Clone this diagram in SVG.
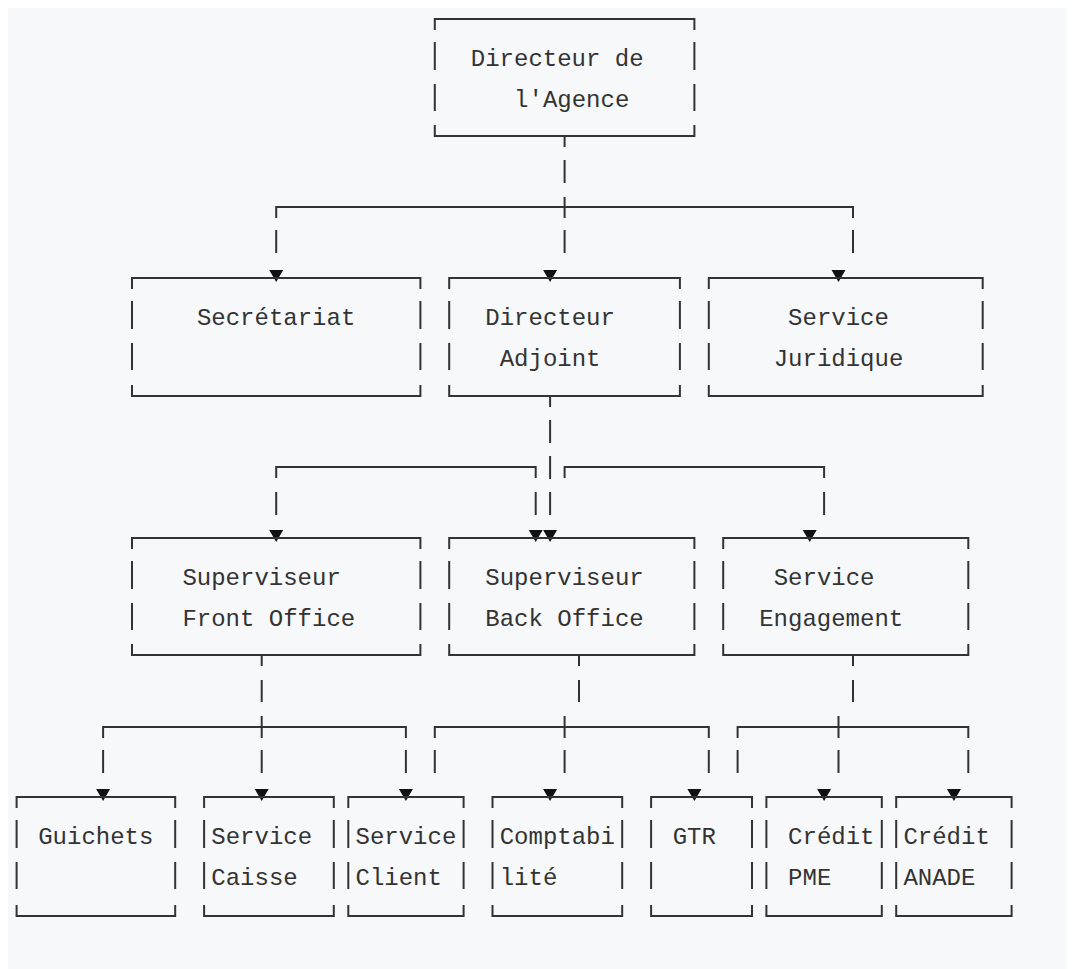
<svg xmlns="http://www.w3.org/2000/svg" width="1075" height="969" viewBox="0 0 1075 969">
<style>
.bx{fill:none;stroke:#333;stroke-width:2;stroke-linecap:butt}
.cn{fill:none;stroke:#333;stroke-width:2;stroke-linecap:butt}
.ar{fill:#111;stroke:none}
.t{font-family:"Liberation Mono","DejaVu Sans Mono",monospace;font-size:24px;fill:#333}
</style>
<defs>
<path id="arw" d="M-7,-8 L7,-8 L0,4 Z"/>
</defs>
<rect x="0" y="0" width="1075" height="969" fill="#ffffff"/>
<rect x="8" y="8" width="1059" height="961" fill="#f7f8fa"/>

<g id="connectors">
<path class="cn" d="M564.6 136V147 M564.6 160V183 M564.6 197V218 M564.6 230V253
M276.2 218V207H853V218 M276.2 230V253 M853 230V253"/>
<path class="cn" d="M550.1 396V407 M550.1 420V443 M550.1 456V479 M550.1 492V515
M276.2 478V467H535.7V478 M276.2 492V515 M535.7 492V515
M564.6 478V467H824.1V478 M824.1 492V515"/>
<path class="cn" d="M261.7 655V666 M261.7 680V702 M261.7 716V738 M261.7 750V773
M103.1 738V727H405.9V738 M103.1 750V773 M405.9 750V773"/>
<path class="cn" d="M579 655V666 M579 680V702 M564.6 716V738 M564.6 750V773
M434.8 738V727H708.8V738 M434.8 750V773 M708.8 750V773"/>
<path class="cn" d="M853 655V666 M853 680V702 M838.5 716V738 M838.5 750V773
M737.6 738V727H968.3V738 M737.6 750V773 M968.3 750V773"/>
<g class="ar">
<use href="#arw" x="276.2" y="278"/>
<use href="#arw" x="550.1" y="278"/>
<use href="#arw" x="838.5" y="278"/>
<use href="#arw" x="276.2" y="538"/>
<use href="#arw" x="535.7" y="538"/>
<use href="#arw" x="550.1" y="538"/>
<use href="#arw" x="809.7" y="538"/>
<use href="#arw" x="103.1" y="797"/>
<use href="#arw" x="261.7" y="797"/>
<use href="#arw" x="405.9" y="797"/>
<use href="#arw" x="550.1" y="797"/>
<use href="#arw" x="694.4" y="797"/>
<use href="#arw" x="824.1" y="797"/>
<use href="#arw" x="953.9" y="797"/>
</g>
</g>

<g id="directeur-agence">
<path class="bx" d="M434.8 30V19H694.4V30 M434.8 42V70 M434.8 84V111 M694.4 42V70 M694.4 84V111 M434.8 125V136H694.4V125"/>
<text class="t" x="470.8" y="65.5">Directeur de</text>
<text class="t" x="514.1" y="106.5">l'Agence</text>
</g>

<g id="secretariat">
<path class="bx" d="M132 289V278H420.4V289 M132 301V329 M132 343V370 M420.4 301V329 M420.4 343V370 M132 385V396H420.4V385"/>
<text class="t" x="196.9" y="324.5">Secrétariat</text>
</g>

<g id="directeur-adjoint">
<path class="bx" d="M449.2 289V278H679.9V289 M449.2 301V329 M449.2 343V370 M679.9 301V329 M679.9 343V370 M449.2 385V396H679.9V385"/>
<text class="t" x="485.3" y="324.5">Directeur</text>
<text class="t" x="499.7" y="365.5">Adjoint</text>
</g>

<g id="service-juridique">
<path class="bx" d="M708.8 289V278H982.7V289 M708.8 301V329 M708.8 343V370 M982.7 301V329 M982.7 343V370 M708.8 385V396H982.7V385"/>
<text class="t" x="788.1" y="324.5">Service</text>
<text class="t" x="773.7" y="365.5">Juridique</text>
</g>

<g id="superviseur-front-office">
<path class="bx" d="M132 549V538H420.4V549 M132 561V589 M132 603V630 M420.4 561V589 M420.4 603V630 M132 644V655H420.4V644"/>
<text class="t" x="182.4" y="584.5">Superviseur</text>
<text class="t" x="182.4" y="625.5">Front Office</text>
</g>

<g id="superviseur-back-office">
<path class="bx" d="M449.2 549V538H694.4V549 M449.2 561V589 M449.2 603V630 M694.4 561V589 M694.4 603V630 M449.2 644V655H694.4V644"/>
<text class="t" x="485.3" y="584.5">Superviseur</text>
<text class="t" x="485.3" y="625.5">Back Office</text>
</g>

<g id="service-engagement">
<path class="bx" d="M723.2 549V538H968.3V549 M723.2 561V589 M723.2 603V630 M968.3 561V589 M968.3 603V630 M723.2 644V655H968.3V644"/>
<text class="t" x="773.7" y="584.5">Service</text>
<text class="t" x="759.2" y="625.5">Engagement</text>
</g>

<g id="guichets">
<path class="bx" d="M16.6 808V797H175.2V808 M16.6 820V848 M16.6 862V889 M175.2 820V848 M175.2 862V889 M16.6 905V916H175.2V905"/>
<text class="t" x="38.2" y="843.5">Guichets</text>
</g>

<g id="service-caisse">
<path class="bx" d="M204.1 808V797H333.8V808 M204.1 820V848 M204.1 862V889 M333.8 820V848 M333.8 862V889 M204.1 905V916H333.8V905"/>
<text class="t" x="211.3" y="843.5">Service</text>
<text class="t" x="211.3" y="884.5">Caisse</text>
</g>

<g id="service-client">
<path class="bx" d="M348.3 808V797H463.6V808 M348.3 820V848 M348.3 862V889 M463.6 820V848 M463.6 862V889 M348.3 905V916H463.6V905"/>
<text class="t" x="355.5" y="843.5">Service</text>
<text class="t" x="355.5" y="884.5">Client</text>
</g>

<g id="comptabilite">
<path class="bx" d="M492.5 808V797H622.2V808 M492.5 820V848 M492.5 862V889 M622.2 820V848 M622.2 862V889 M492.5 905V916H622.2V905"/>
<text class="t" x="499.7" y="843.5">Comptabi</text>
<text class="t" x="499.7" y="884.5">lité</text>
</g>

<g id="gtr">
<path class="bx" d="M651.1 808V797H752V808 M651.1 820V848 M651.1 862V889 M752 820V848 M752 862V889 M651.1 905V916H752V905"/>
<text class="t" x="672.7" y="843.5">GTR</text>
</g>

<g id="credit-pme">
<path class="bx" d="M766.4 808V797H881.8V808 M766.4 820V848 M766.4 862V889 M881.8 820V848 M881.8 862V889 M766.4 905V916H881.8V905"/>
<text class="t" x="788.1" y="843.5">Crédit</text>
<text class="t" x="788.1" y="884.5">PME</text>
</g>

<g id="credit-anade">
<path class="bx" d="M896.2 808V797H1011.6V808 M896.2 820V848 M896.2 862V889 M1011.6 820V848 M1011.6 862V889 M896.2 905V916H1011.6V905"/>
<text class="t" x="903.4" y="843.5">Crédit</text>
<text class="t" x="903.4" y="884.5">ANADE</text>
</g>
</svg>
